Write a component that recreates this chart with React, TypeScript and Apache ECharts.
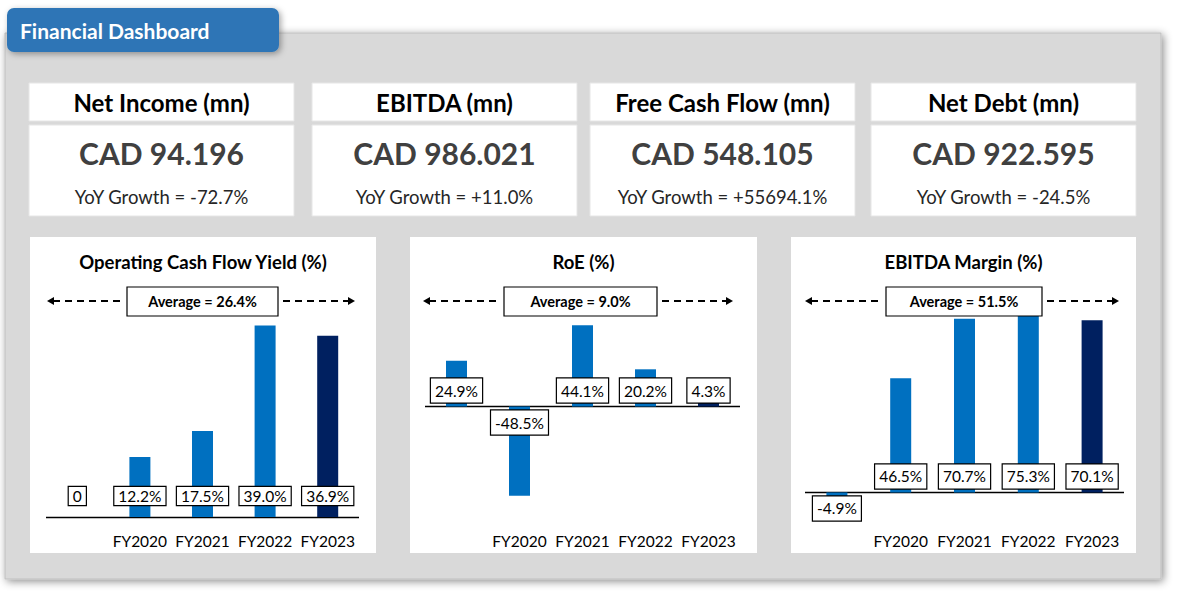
import React, { useEffect, useRef } from "react";
import * as echarts from "echarts";

const categories = ["", "FY2020", "FY2021", "FY2022", "FY2023"];
const ocfYield = [0, 12.2, 17.5, 39.0, 36.9];
const roe = [24.9, -48.5, 44.1, 20.2, 4.3];
const ebitdaMargin = [-4.9, 46.5, 70.7, 75.3, 70.1];
const chartTitles = ["Operating Cash Flow Yield (%)", "RoE (%)", "EBITDA Margin (%)"];
const averageLabels = ["Average = 26.4%", "Average = 9.0%", "Average = 51.5%"];
const yMins = [0, -60, -10];
const yMaxs = [45, 60, 80];

const kpiTitles = ["Net Income (mn)", "EBITDA (mn)", "Free Cash Flow (mn)", "Net Debt (mn)"];
const kpiValues = ["CAD 94.196", "CAD 986.021", "CAD 548.105", "CAD 922.595"];
const kpiGrowth = [
  "YoY Growth = -72.7%",
  "YoY Growth = +11.0%",
  "YoY Growth = +55694.1%",
  "YoY Growth = -24.5%",
];
const dashboardTitle = "Financial Dashboard";

const FONT = "Lato, 'Open Sans', sans-serif";
const BLUE = "#0070C0";
const NAVY = "#002060";

// layout (pixels)
const cardX = [29, 312, 590, 871];
const cardW = 265;
const panels = [
  { x: 30, w: 346, gl: 46, gw: 313, lbl: 12, pad: [1, 4], arrowL: 47, boxL: 127, boxR: 278, arrowR: 355 },
  { x: 410, w: 347, gl: 425, gw: 315, lbl: 4, pad: [4, 4], arrowL: 423, boxL: 504, boxR: 657, arrowR: 733 },
  { x: 791, w: 345, gl: 805, gw: 319, lbl: 4, pad: [4, 4], arrowL: 805, boxL: 886, boxR: 1042, arrowR: 1119 },
];
const seriesData = [ocfYield, roe, ebitdaMargin];

export default function App() {
  const ref = useRef<HTMLDivElement>(null);
  useEffect(() => {
    if (!ref.current) return;
    const chart = echarts.init(ref.current, undefined, { renderer: "svg" });

    const graphic: any[] = [];
    graphic.push({
      type: "rect",
      z: 0,
      shape: { x: 5, y: 33, width: 1156, height: 546 },
      style: {
        fill: "#D9D9D9",
        stroke: "#BFBFBF",
        lineWidth: 1,
        shadowBlur: 8,
        shadowColor: "rgba(0,0,0,0.45)",
        shadowOffsetX: 2,
        shadowOffsetY: 2,
      },
    });
    graphic.push({
      type: "rect",
      z: 1,
      shape: { x: 7, y: 8, width: 272, height: 44, r: 7 },
      style: {
        fill: "#2E75B6",
        shadowBlur: 6,
        shadowColor: "rgba(0,0,0,0.35)",
        shadowOffsetX: 2,
        shadowOffsetY: 2,
      },
    });
    graphic.push({
      type: "text",
      z: 2,
      x: 20,
      y: 30,
      style: {
        text: dashboardTitle,
        fill: "#fff",
        fontSize: 21,
        fontWeight: "bold",
        fontFamily: FONT,
        textAlign: "left",
        textVerticalAlign: "middle",
      },
    });
    kpiTitles.forEach((t, i) => {
      const x = cardX[i];
      const cx = x + cardW / 2;
      graphic.push({
        type: "rect",
        z: 1,
        shape: { x, y: 83, width: cardW, height: 38 },
        style: { fill: "#fff", stroke: "#E6E6E6", lineWidth: 1 },
      });
      graphic.push({
        type: "rect",
        z: 1,
        shape: { x, y: 125, width: cardW, height: 91 },
        style: { fill: "#fff", stroke: "#E6E6E6", lineWidth: 1 },
      });
      graphic.push({
        type: "text",
        z: 2,
        x: cx,
        y: 102,
        style: {
          text: t,
          fill: "#000",
          fontSize: 24,
          fontWeight: "bold",
          fontFamily: FONT,
          textAlign: "center",
          textVerticalAlign: "middle",
        },
      });
      graphic.push({
        type: "text",
        z: 2,
        x: cx,
        y: 153,
        style: {
          text: kpiValues[i],
          fill: "#404040",
          fontSize: 30,
          fontWeight: "bold",
          fontFamily: FONT,
          textAlign: "center",
          textVerticalAlign: "middle",
        },
      });
      graphic.push({
        type: "text",
        z: 2,
        x: cx,
        y: 197,
        style: {
          text: kpiGrowth[i],
          fill: "#262626",
          fontSize: 18.5,
          fontFamily: FONT,
          textAlign: "center",
          textVerticalAlign: "middle",
        },
      });
    });

    panels.forEach((p, i) => {
      graphic.push({
        type: "rect",
        z: 1,
        shape: { x: p.x, y: 237, width: p.w, height: 316 },
        style: { fill: "#fff" },
      });
      graphic.push({
        type: "text",
        z: 2,
        x: p.x + p.w / 2,
        y: 262,
        style: {
          text: chartTitles[i],
          fill: "#000",
          fontSize: 18.5,
          fontWeight: "bold",
          fontFamily: FONT,
          textAlign: "center",
          textVerticalAlign: "middle",
        },
      });
      const ay = 301;
      graphic.push({
        type: "line",
        z: 20,
        shape: { x1: p.arrowL + 6, y1: ay, x2: p.boxL - 4, y2: ay },
        style: { stroke: "#000", lineWidth: 2, lineDash: [7, 5] },
      });
      graphic.push({
        type: "polygon",
        z: 20,
        shape: { points: [[p.arrowL, ay], [p.arrowL + 7, ay - 4], [p.arrowL + 7, ay + 4]] },
        style: { fill: "#000" },
      });
      graphic.push({
        type: "line",
        z: 20,
        shape: { x1: p.boxR + 5, y1: ay, x2: p.arrowR - 6, y2: ay },
        style: { stroke: "#000", lineWidth: 2, lineDash: [7, 5] },
      });
      graphic.push({
        type: "polygon",
        z: 20,
        shape: { points: [[p.arrowR, ay], [p.arrowR - 7, ay - 4], [p.arrowR - 7, ay + 4]] },
        style: { fill: "#000" },
      });
      graphic.push({
        type: "rect",
        z: 20,
        shape: { x: p.boxL, y: 287, width: p.boxR - p.boxL, height: 29 },
        style: { fill: "#fff", stroke: "#000", lineWidth: 1.2 },
      });
      graphic.push({
        type: "text",
        z: 21,
        x: (p.boxL + p.boxR) / 2,
        y: 301.5,
        style: {
          text: averageLabels[i],
          fill: "#000",
          fontSize: 14.5,
          fontWeight: "bold",
          fontFamily: FONT,
          textAlign: "center",
          textVerticalAlign: "middle",
        },
      });
    });

    const grids = panels.map((p) => ({
      left: p.gl,
      top: 296,
      width: p.gw,
      height: 221,
      containLabel: false,
    }));

    const xAxes = panels.map((p, i) => ({
      type: "category",
      gridIndex: i,
      data: categories,
      z: 10,
      axisLine: { show: false, onZero: false },
      axisTick: { show: false },
      splitLine: { show: false },
      axisLabel: {
        color: "#000",
        fontSize: 15.5,
        fontFamily: FONT,
        margin: 16,
        interval: 0,
      },
    }));

    const yAxes = panels.map((p, i) => ({
      type: "value",
      gridIndex: i,
      min: yMins[i],
      max: yMaxs[i],
      show: false,
    }));

    const series = panels.map((p, i) => ({
      type: "bar",
      xAxisIndex: i,
      yAxisIndex: i,
      z: 5,
      barWidth: 21,
      data: seriesData[i].map((v, j) => ({
        value: v,
        itemStyle: { color: j === seriesData[i].length - 1 ? NAVY : BLUE },
        label: {
          position: v < 0 ? "insideTop" : "insideBottom",
          distance: v < 0 ? 4 : p.lbl,
        },
      })),
      label: {
        show: true,
        formatter: (d: any) => (d.value === 0 ? "0" : `${Number(d.value).toFixed(1)}%`),
        color: "#000",
        fontSize: 15.5,
        fontFamily: FONT,
        backgroundColor: "#fff",
        borderColor: "#000",
        borderWidth: 1.2,
        padding: p.pad,
      },
      markLine: {
        silent: true,
        symbol: "none",
        label: { show: false },
        lineStyle: { color: "#000", width: 1.3, type: "solid" },
        data: [{ yAxis: 0 }],
      },
    }));

    chart.setOption({
      animation: false,
      backgroundColor: "#fff",
      graphic,
      grid: grids,
      xAxis: xAxes,
      yAxis: yAxes,
      series,
    });
    return () => chart.dispose();
  }, []);
  return (
    <div
      ref={ref}
      style={{ position: "fixed", left: 0, top: 0, width: 1180, height: 605 }}
    />
  );
}
